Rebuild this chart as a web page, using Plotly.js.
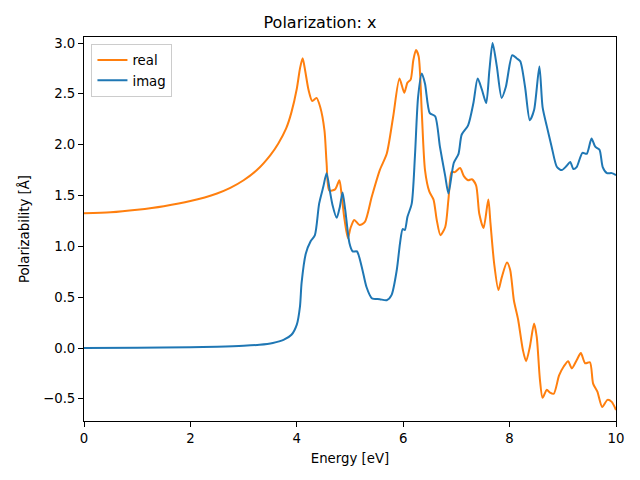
<!DOCTYPE html>
<html>
<head>
<meta charset="utf-8">
<script src="https://cdn.plot.ly/plotly-3.0.1.min.js"></script>
<style>html,body{margin:0;padding:0;background:#fff;}#chart{width:640px;height:480px;}</style>
</head>
<body>
<div id="chart"></div>
<script>
const realX = [0,0.5,1.0,1.5,2.0,2.5,2.75,3.0,3.25,3.5,3.65,3.8,3.9,4.0,4.06,4.11,4.16,4.22,4.29,4.37,4.44,4.52,4.56,4.61,4.72,4.80,4.84,4.89,4.96,5.01,5.08,5.18,5.28,5.41,5.56,5.69,5.81,5.93,6.02,6.08,6.14,6.19,6.24,6.29,6.35,6.41,6.49,6.57,6.63,6.70,6.79,6.85,6.91,6.97,7.07,7.14,7.22,7.29,7.37,7.43,7.51,7.60,7.64,7.71,7.79,7.85,7.95,8.01,8.08,8.16,8.25,8.31,8.38,8.46,8.51,8.57,8.62,8.70,8.76,8.83,8.93,9.02,9.10,9.17,9.26,9.34,9.42,9.51,9.57,9.65,9.74,9.84,9.92,10.0];
const realY = [1.325,1.335,1.36,1.395,1.445,1.52,1.575,1.65,1.75,1.895,2.01,2.16,2.32,2.55,2.75,2.85,2.72,2.54,2.43,2.46,2.37,2.14,1.82,1.55,1.56,1.65,1.52,1.29,1.08,1.18,1.26,1.21,1.24,1.49,1.75,1.91,2.27,2.65,2.51,2.61,2.64,2.83,2.93,2.87,2.31,1.75,1.54,1.46,1.26,1.11,1.19,1.46,1.73,1.73,1.77,1.69,1.65,1.66,1.60,1.32,1.18,1.46,1.23,0.83,0.57,0.69,0.84,0.77,0.47,0.28,-0.02,-0.13,0.01,0.24,0.11,-0.31,-0.49,-0.41,-0.44,-0.45,-0.27,-0.18,-0.13,-0.20,-0.12,-0.05,-0.15,-0.14,-0.35,-0.43,-0.58,-0.51,-0.53,-0.61];
const imagX = [0,1,2,2.5,3.0,3.3,3.55,3.75,3.9,4.0,4.06,4.09,4.17,4.26,4.34,4.42,4.50,4.56,4.62,4.67,4.75,4.81,4.86,4.91,4.99,5.05,5.13,5.22,5.31,5.41,5.56,5.69,5.78,5.88,5.94,5.99,6.03,6.08,6.16,6.22,6.28,6.35,6.41,6.50,6.60,6.69,6.79,6.85,6.95,7.04,7.10,7.22,7.32,7.40,7.48,7.56,7.62,7.68,7.76,7.85,7.93,8.05,8.13,8.20,8.29,8.38,8.46,8.56,8.62,8.70,8.79,8.89,8.98,9.07,9.14,9.20,9.26,9.37,9.45,9.54,9.61,9.69,9.75,9.83,9.92,10.0];
const imagY = [0.0,0.003,0.008,0.013,0.022,0.032,0.05,0.08,0.13,0.23,0.41,0.64,0.93,1.05,1.11,1.42,1.59,1.72,1.55,1.41,1.28,1.39,1.53,1.36,1.03,0.95,0.95,0.80,0.60,0.49,0.48,0.47,0.52,0.77,1.03,1.17,1.16,1.29,1.42,1.88,2.47,2.70,2.60,2.31,2.28,1.98,1.69,1.52,1.82,1.91,2.10,2.19,2.41,2.65,2.54,2.41,2.73,3.00,2.77,2.46,2.57,2.88,2.85,2.82,2.57,2.24,2.34,2.77,2.37,2.18,1.98,1.78,1.75,1.79,1.83,1.76,1.78,1.92,1.91,2.06,1.98,1.95,1.78,1.72,1.72,1.70];
const xTicks = [0,2,4,6,8,10];
const yTicks = [-0.5,0.0,0.5,1.0,1.5,2.0,2.5,3.0];
const yTickText = ['\u22120.5','0.0','0.5','1.0','1.5','2.0','2.5','3.0'];

const font = {family: 'DejaVu Sans', size: 13.3, color: '#000'};
const traces = [
  {x: realX, y: realY, name: 'real', type: 'scatter', mode: 'lines',
   line: {color: '#ff7f0e', width: 2, shape: 'spline', smoothing: 0.7}},
  {x: imagX, y: imagY, name: 'imag', type: 'scatter', mode: 'lines',
   line: {color: '#1f77b4', width: 2, shape: 'spline', smoothing: 0.7}}
];
const layout = {
  width: 640, height: 480,
  margin: {l: 84, r: 24, t: 37, b: 59},
  paper_bgcolor: '#fff', plot_bgcolor: '#fff',
  font: font,
  title: {text: 'Polarization: x', font: {family: 'DejaVu Sans', size: 16, color: '#000'}, x: 0.5, xanchor: 'center', y: 1 - 22/480, yanchor: 'middle'},
  xaxis: {range: [0, 10], tickvals: xTicks, ticktext: xTicks.map(String), showgrid: false, zeroline: false,
    showline: true, mirror: true, linecolor: '#000', linewidth: 1, ticks: 'outside', ticklen: 5, tickwidth: 1, tickcolor: '#000',
    title: {text: 'Energy [eV]', font: font, standoff: 8}},
  yaxis: {range: [-0.718, 3.059], tickvals: yTicks, ticktext: yTickText, showgrid: false, zeroline: false,
    showline: true, mirror: true, linecolor: '#000', linewidth: 1, ticks: 'outside', ticklen: 5, tickwidth: 1, tickcolor: '#000',
    title: {text: 'Polarizability [Å]', font: font, standoff: 10}},
  showlegend: true,
  legend: {x: 0.014, y: 0.982, xanchor: 'left', yanchor: 'top', bgcolor: 'rgba(255,255,255,0.8)', bordercolor: '#cccccc', borderwidth: 1,
    font: font, tracegroupgap: 0, itemwidth: 30}
};
Plotly.newPlot('chart', traces, layout, {displayModeBar: false, staticPlot: true});
</script>
</body>
</html>
